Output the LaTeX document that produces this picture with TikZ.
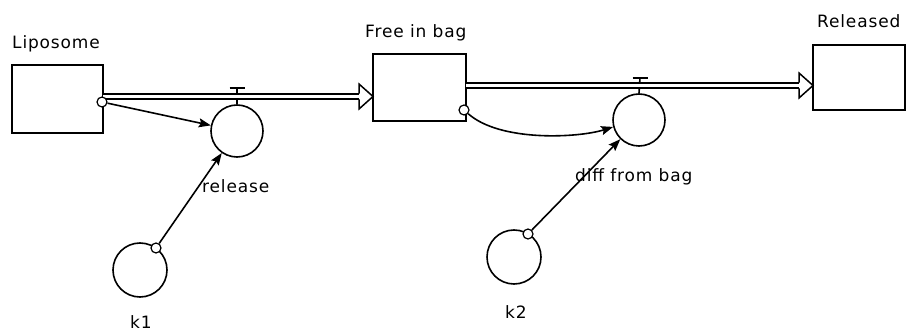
\documentclass[tikz,border=0pt]{standalone}
\usepackage{fontspec}
\setmainfont{DejaVu Sans}[LetterSpace=5]
\usetikzlibrary{arrows.meta}
\begin{document}
\begin{tikzpicture}[x=1pt,y=-1pt,
  stock/.style={draw, line width=1.6pt, inner sep=0pt},
  conv/.style={draw, circle, line width=1.6pt, minimum size=52pt, inner sep=0pt},
  src/.style={draw, circle, line width=1.2pt, minimum size=10pt, inner sep=0pt, fill=white},
  lbl/.style={font=\fontsize{17}{20}\selectfont, inner sep=0pt},
  link/.style={line width=1.6pt, -{Stealth[length=12pt,width=9pt,inset=2pt]}},
  pipe/.style={line width=1.4pt, double distance=3.4pt},
  valve/.style={line width=1.6pt},
  headline/.style={line width=1.5pt, line join=miter}]

\useasboundingbox (0,0) rectangle (907,331);

% stocks
\node[stock, minimum width=91pt, minimum height=68pt] (lipo) at (57.5,99) {};
\node[stock, minimum width=93pt, minimum height=67pt] (free) at (419.5,87.5) {};
\node[stock, minimum width=92pt, minimum height=65pt] (rel) at (859,77.5) {};

% labels
\node[lbl, anchor=base west] (tlipo) at (12,49) {Liposome};
\node[lbl, anchor=base west] (tfree) at (365,38) {Free in bag};
\node[lbl, anchor=base west] (trel) at (817,28) {Released};
\node[lbl, anchor=base west] (trelease) at (202,193) {release};
\node[lbl, anchor=base west] (tdiff) at (575,182) {diff from bag};
\node[lbl, anchor=base west] (tk1) at (130,328) {k1};
\node[lbl, anchor=base west] (tk2) at (505,318) {k2};

% converters / valves
\node[conv] (rv) at (237,131) {};
\node[conv] (dv) at (639,120) {};
\node[conv, minimum size=54pt] (k1) at (140,270) {};
\node[conv, minimum size=54pt] (k2) at (514,257) {};

% valve stems and handles
\coordinate (rt) at (237,88);
\coordinate (dt) at (640,78);
\draw[valve] (rv.north) -- (rt);
\draw[valve] ([xshift=-7.5pt]rt) -- ([xshift=7.5pt]rt);
\draw[valve] (dv.north) -- (dt);
\draw[valve] ([xshift=-7.5pt]dt) -- ([xshift=7.5pt]dt);

% pipes
\coordinate (p1s) at (103,96.5);
\coordinate (p1e) at (359,96.5);
\coordinate (p1t) at (373,96.5);
\draw[pipe] (p1s) -- (p1e);
\fill[white] (359,84) -- (p1t) -- (359,109) -- cycle;
\draw[headline] (359,93.6) -- (359,84) -- (p1t) -- (359,109) -- (359,99.4);

\coordinate (p2s) at (466,85.5);
\coordinate (p2e) at (799,85.5);
\coordinate (p2t) at (813,85.5);
\draw[pipe] (p2s) -- (p2e);
\fill[white] (799,73) -- (p2t) -- (799,98) -- cycle;
\draw[headline] (799,82.6) -- (799,73) -- (p2t) -- (799,98) -- (799,88.4);

% link sources
\node[src] (lc) at (102,102) {};
\node[src] (fc) at (464,110) {};
\node[src] (kc1) at (156,248) {};
\node[src] (kc2) at (528,234) {};

% links
\draw[link] (lc) -- (rv);
\draw[link] (kc1) -- (rv);
\draw[link] (fc) .. controls (500,142) and (578,138) .. (dv.195);
\draw[link] (kc2) -- (dv);
\end{tikzpicture}
\end{document}
